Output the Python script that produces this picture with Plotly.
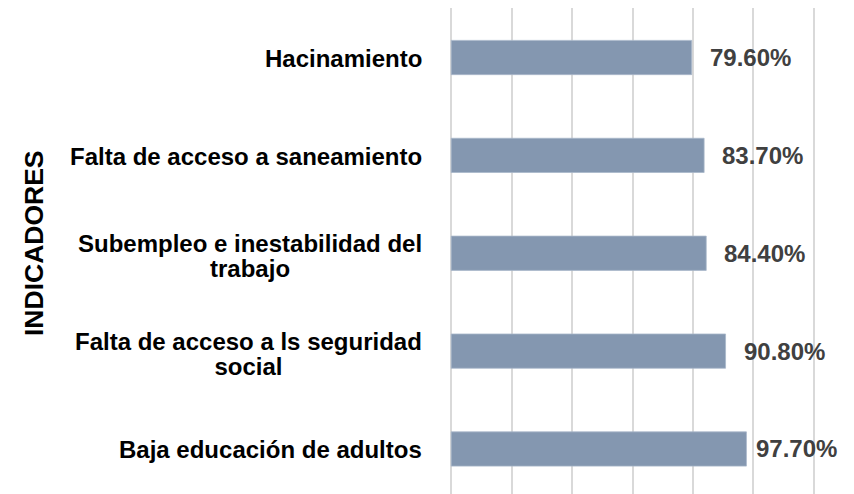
import plotly.graph_objects as go

categories = [
    "Hacinamiento",
    "Falta de acceso a saneamiento",
    "Subempleo e inestabilidad del<br>trabajo",
    "Falta de acceso a ls seguridad<br>social",
    "Baja educación de adultos",
]
values = [79.6, 83.7, 84.4, 90.8, 97.7]
value_labels = ["79.60%", "83.70%", "84.40%", "90.80%", "97.70%"]
axis_title = "INDICADORES"

FONT = "Liberation Sans, Arial, sans-serif"
BAR_COLOR = "#8497B0"
TEXT_DARK = "#404040"
LABEL_PX = 24

fig = go.Figure()
fig.add_trace(go.Bar(
    x=values,
    y=list(range(len(categories))),
    orientation="h",
    marker=dict(color=BAR_COLOR, line=dict(color="#A9B7CA", width=0.8)),
    hoverinfo="skip",
))

annotations = []
for i, (cat, v, lab) in enumerate(zip(categories, values, value_labels)):
    lines = cat.split("<br>")
    if len(lines) == 1:
        txt = "<b>" + cat + "</b>"
        fsize = LABEL_PX
        ys = -1
    else:
        # base font sets the tighter line pitch; inner span keeps glyph size
        txt = "<br>".join(
            '<span style="font-size:%dpx"><b>%s</b></span>' % (LABEL_PX, ln) for ln in lines
        )
        fsize = 19.2
        ys = -2.5
    annotations.append(dict(
        x=0, xref="paper", y=i, yref="y",
        text=txt, showarrow=False,
        xanchor="right", yanchor="middle", align="center",
        xshift=-26, yshift=ys,
        font=dict(family=FONT, size=fsize, color="#000000"),
    ))
    pad = 8 if v == max(values) else 16
    annotations.append(dict(
        x=v, xref="x", y=i, yref="y",
        text="<b>" + lab + "</b>", showarrow=False,
        xanchor="left", yanchor="middle", xshift=pad,
        font=dict(family=FONT, size=24, color=TEXT_DARK),
    ))

annotations.append(dict(
    x=0, xref="paper", y=0.5, yref="paper",
    text="<b>" + axis_title + "</b>", showarrow=False,
    textangle=-90, xanchor="center", yanchor="middle",
    xshift=-416, yshift=8,
    font=dict(family=FONT, size=26.5, color="#000000"),
))

fig.update_layout(
    width=854, height=494,
    margin=dict(l=450, r=39, t=8, b=0),
    paper_bgcolor="white", plot_bgcolor="white",
    showlegend=False,
    bargap=0.65,
    annotations=annotations,
    xaxis=dict(range=[-0.4, 120.4], tickvals=[0, 20, 40, 60, 80, 100, 120],
               showgrid=True, gridcolor="#D9D9D9",
               gridwidth=1.5, showticklabels=False, zeroline=False,
               showline=False, ticks=""),
    yaxis=dict(range=[4.46, -0.506], showticklabels=False, showgrid=False,
               zeroline=False, showline=False, ticks=""),
)

fig.write_html("out.html", config={"displayModeBar": False},
               post_script="document.body.style.margin='0px';")
